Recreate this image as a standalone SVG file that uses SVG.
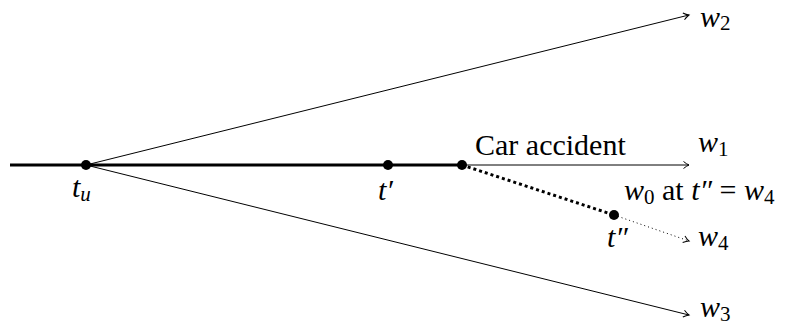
<svg xmlns="http://www.w3.org/2000/svg" width="791" height="329" viewBox="0 0 791 329">
<style>
text{font-family:'Liberation Serif','Times New Roman',Times,'Nimbus Roman','DejaVu Serif',serif;fill:#000}
.m{font-style:italic;font-size:30px}
.r{font-size:30px;font-style:normal}
.s{font-size:21px;font-style:normal}
.si{font-size:21px;font-style:italic}
.thin{stroke:#000;stroke-width:1;fill:none}
.thick{stroke:#000;stroke-width:3;fill:none}
.dot{fill:#000}
</style>
<defs>
<marker id="to" markerWidth="10" markerHeight="10" refX="7" refY="5" orient="auto" markerUnits="userSpaceOnUse">
<path d="M1.5,1.5 Q4.5,4 7,5 Q4.5,6 1.5,8.5" fill="none" stroke="#000" stroke-width="1"/>
</marker>
</defs>
<g id="connectors">
<line class="thick" x1="10" y1="165" x2="462" y2="165"/>
<line class="thin" x1="462" y1="165" x2="689" y2="165" marker-end="url(#to)"/>
<line class="thin" x1="86" y1="165" x2="689" y2="15" marker-end="url(#to)"/>
<line class="thin" x1="86" y1="165" x2="689" y2="315" marker-end="url(#to)"/>
<line x1="462" y1="165" x2="614" y2="215" stroke="#000" stroke-width="3" stroke-dasharray="3 3"/>
<line x1="614" y1="215" x2="689" y2="241" stroke="#000" stroke-width="1" stroke-dasharray="1 3" marker-end="url(#to)"/>
</g>
<g id="tu"><circle class="dot" cx="86" cy="165" r="5"/><text class="m" x="72" y="197">t<tspan class="si" dy="4">u</tspan></text></g>
<g id="tp"><circle class="dot" cx="388" cy="165" r="5"/><text class="m" x="378" y="200">t′</text></g>
<g id="acc"><circle class="dot" cx="462" cy="165" r="5"/><text class="r" x="475" y="155">Car accident</text></g>
<g id="tpp"><circle class="dot" cx="614" cy="215" r="5"/><text class="m" x="607" y="247">t″</text></g>
<g id="w2"><text class="m" x="700" y="27" font-size="28">w<tspan class="s" dy="3">2</tspan></text></g>
<g id="w1"><text class="m" x="698" y="152">w<tspan class="s" dy="4">1</tspan></text></g>
<g id="w0"><text class="m" x="624" y="200" font-size="31">w<tspan class="s" dy="4">0</tspan><tspan class="r" dy="-4" font-size="31"> at </tspan>t″ <tspan class="r" font-size="31">=</tspan> w<tspan class="s" dy="4">4</tspan></text></g>
<g id="w4"><text class="m" x="698" y="246">w<tspan class="s" dy="4">4</tspan></text></g>
<g id="w3"><text class="m" x="700" y="317">w<tspan class="s" dy="4">3</tspan></text></g>
</svg>
